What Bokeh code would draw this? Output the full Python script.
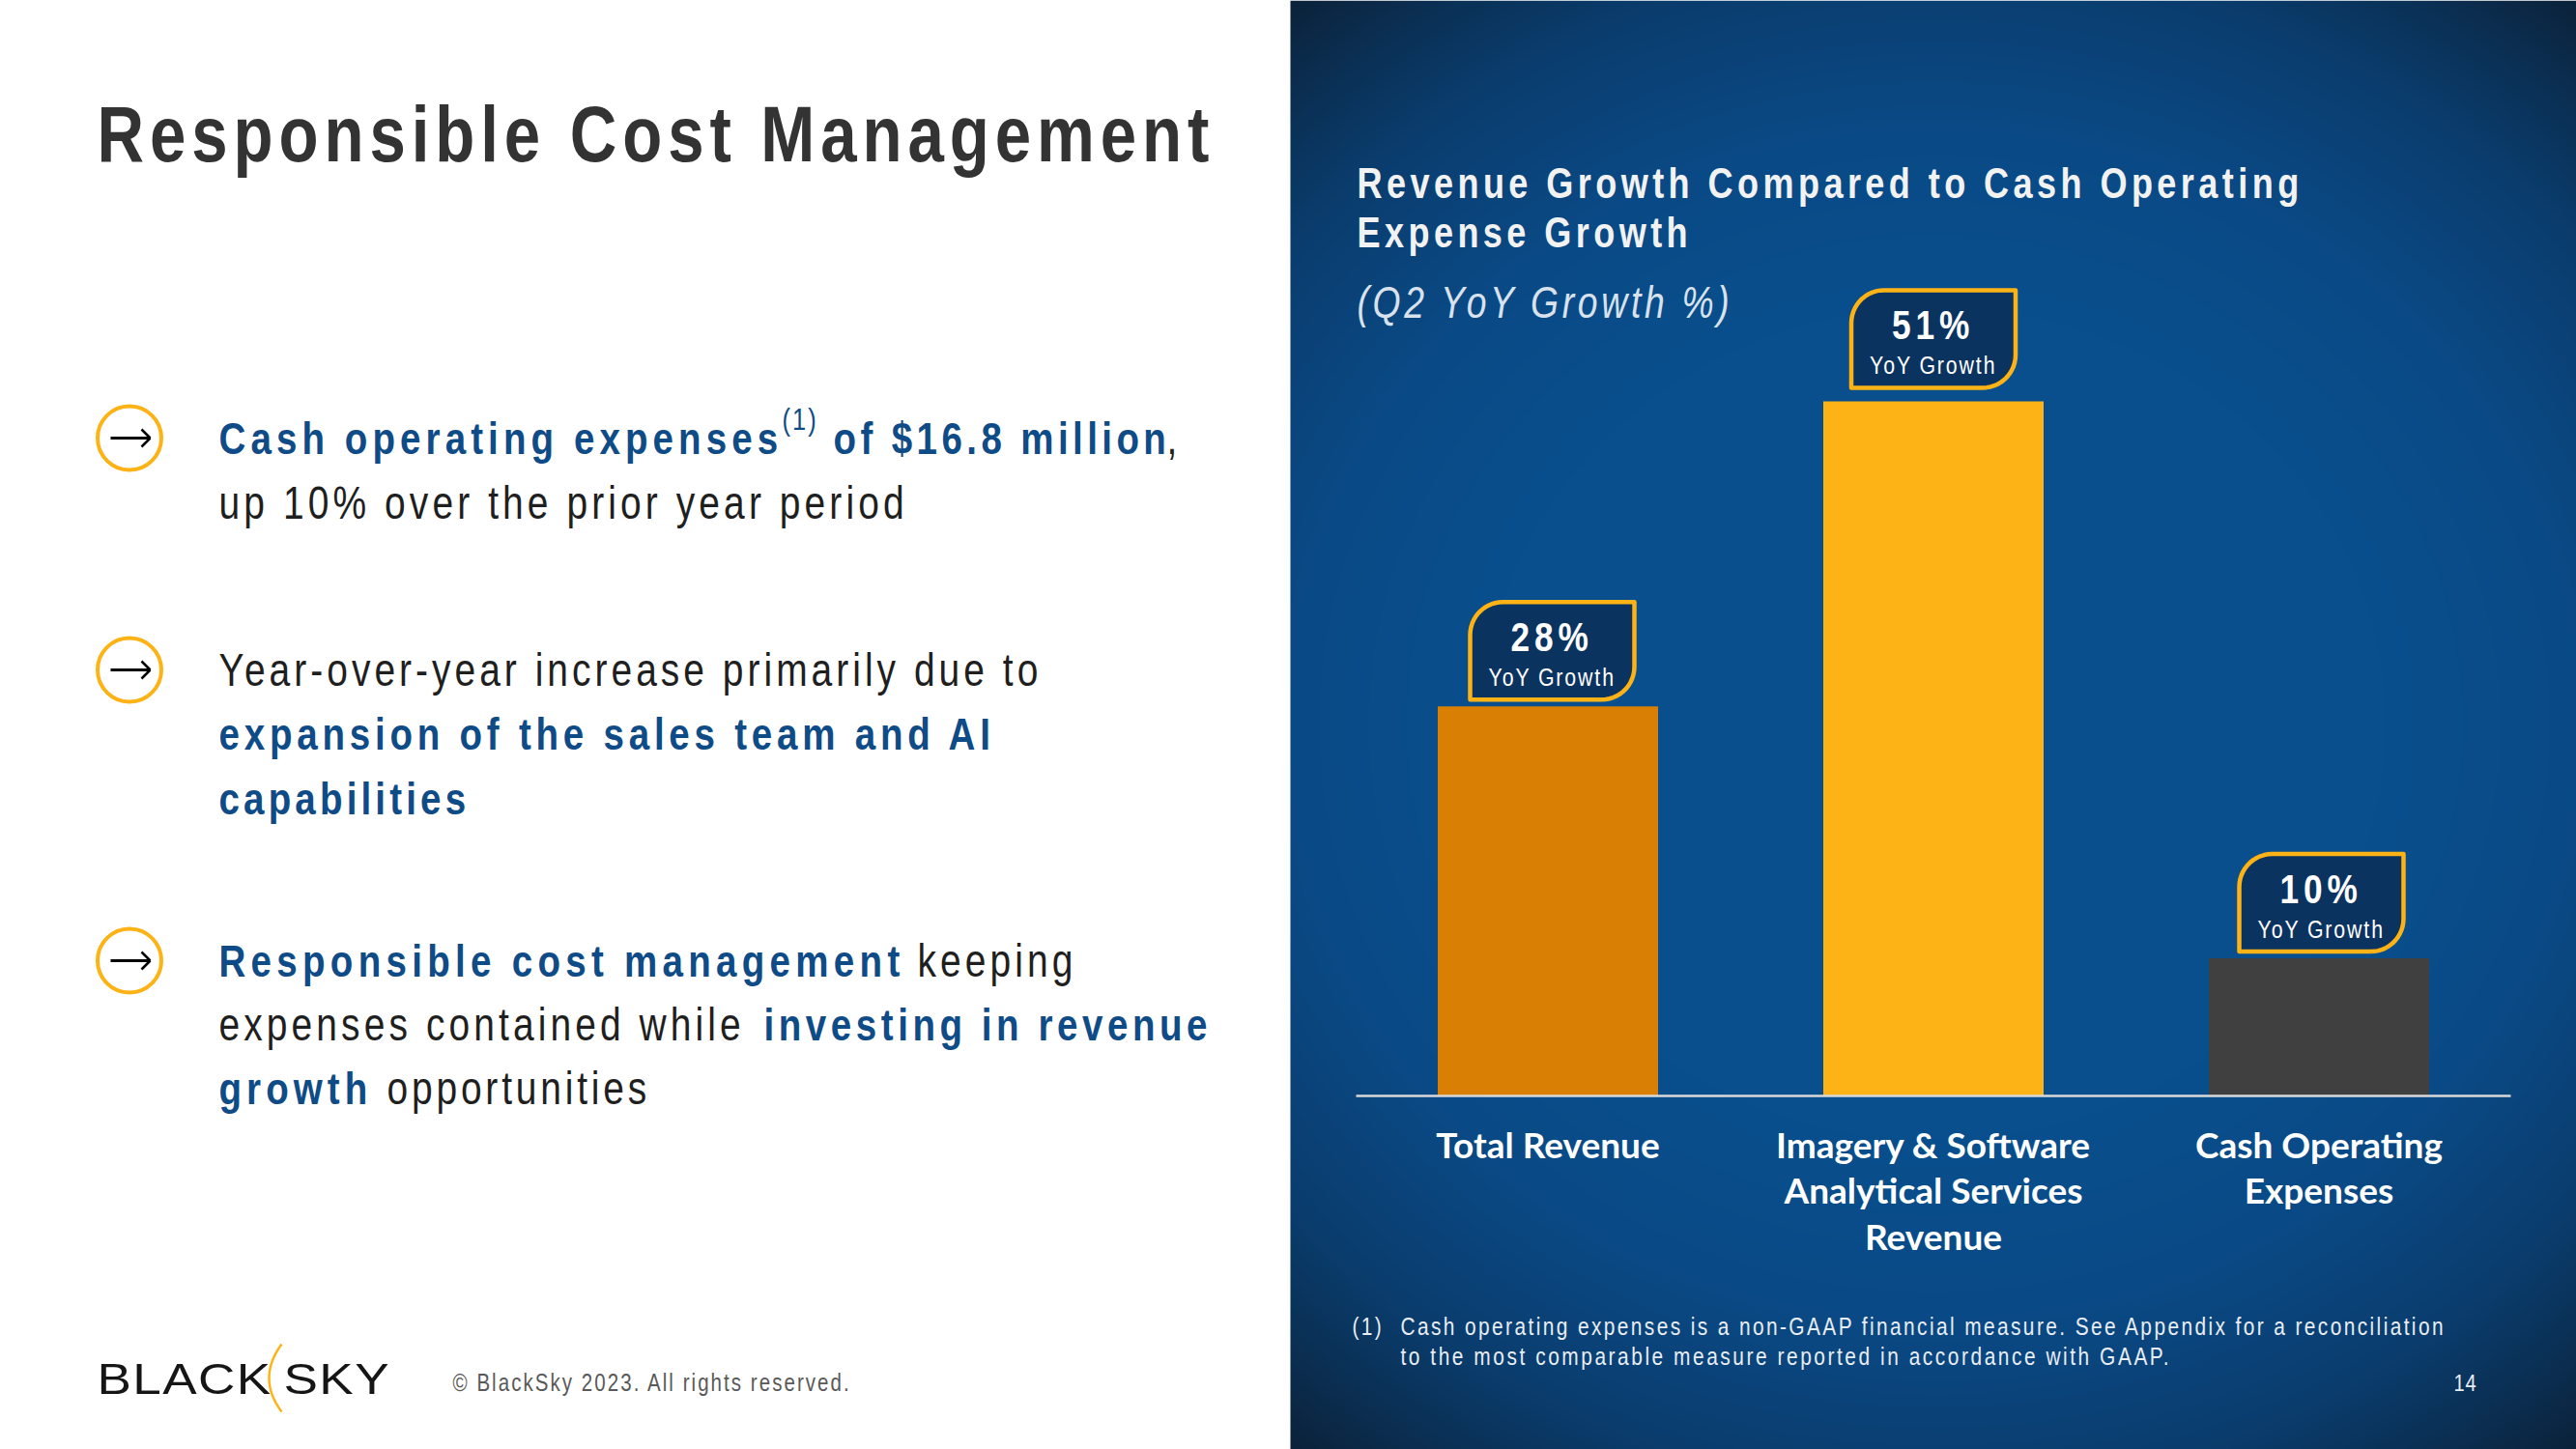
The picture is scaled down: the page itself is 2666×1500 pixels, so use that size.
import numpy as np
from bokeh.core.properties import value
from bokeh.embed import file_html
from bokeh.io import curdoc
from bokeh.models import CustomJS, Range1d
from bokeh.plotting import figure
from bokeh.resources import INLINE

categories = ["Total Revenue", "Imagery & Software\nAnalytical Services\nRevenue", "Cash Operating\nExpenses"]
growth_values = [28.6, 51.0, 10.1]
growth_labels = ["28%", "51%", "10%"]
bar_colors = ["#D98004", "#FDB316", "#404040"]
callout_text = "YoY Growth"

W, H = 2666, 1500
BASE_Y, PX_PER_PCT = 1134, 14.1
CENTER_0, STEP = 1601.5, 399
GOLD, NAVY, BLUE, INK = "#FDB316", "#0B3360", "#0F4C87", "#1f1f1f"
SANS = "Liberation Sans"
BASE_SHIFT = 0.33

x_start = -CENTER_0 / STEP
y_top, y_bottom = BASE_Y / PX_PER_PCT, (BASE_Y - H) / PX_PER_PCT
p = figure(width=W, height=H, output_backend="svg", toolbar_location=None, min_border=0,
           x_range=Range1d(x_start, x_start + W / STEP), y_range=Range1d(y_bottom, y_top),
           x_axis_location=None, y_axis_location=None, background_fill_color="white",
           border_fill_color="white", outline_line_color=None)
p.styles = {"position": "absolute", "left": "0", "top": "0"}
p.extra_x_ranges = {"px": Range1d(0, W)}
p.extra_y_ranges = {"px": Range1d(H, 0)}
p.grid.visible = False
PX = dict(x_range_name="px", y_range_name="px")

# panel background
yy, xx = np.mgrid[0:750, 0:666]
r = np.sqrt(((xx - 333) / 520.0) ** 2 + ((yy - 375) / 480.0) ** 2)
stops = [0.0, 0.45, 0.64, 0.82, 0.92, 1.01]
chan = [[9, 9, 10, 10, 11, 11], [80, 79, 74, 61, 48, 34], [143, 141, 134, 110, 84, 58]]
img = np.zeros((750, 666), dtype=np.uint32)
v = img.view(dtype=np.uint8).reshape((750, 666, 4))
for i in range(3):
    v[:, :, i] = np.interp(r, stops, chan[i]).astype(np.uint8)
v[:, :, 3] = 255
p.image_rgba(image=[img], x=x_start + 1335 / STEP, y=y_bottom, dw=1331 / STEP, dh=H / PX_PER_PCT, level="image")

# bars through the data scale
xs = list(range(len(categories)))
p.vbar(x=xs, top=growth_values, bottom=0, width=228 / STEP, fill_color=bar_colors, line_color=None)

# category labels under the zero line
p.text(x=xs, y=[0] * len(xs), text=categories, text_font=value("Lato"), text_font_size=value("37px"),
       text_font_style="bold", text_color="white", text_align="center", text_baseline="top",
       text_line_height=1.058, y_offset=27)
p.segment(x0=[1403], x1=[2598], y0=[1134], y1=[1134], line_color="#D9D9D9", line_width=2.5, **PX)

def txt(x, y, t, size, color, font=SANS, style="normal"):
    shift = BASE_SHIFT * float(size[:-2])
    p.text(x=x, y=[q - shift for q in y], text=t, text_font=value(font), text_font_size=value(size), text_color=color,
           text_font_style=style, text_align="left", text_baseline="alphabetic", **PX)

def callout(left, top, w=170, h=101, rad=34):
    a = np.linspace(0, np.pi / 2, 14)
    px = [left, left] + list(left + rad - rad * np.cos(a)) + [left + w, left + w]
    py = [top + h, top + rad] + list(top + rad - rad * np.sin(a)) + [top, top + h - rad]
    px += list(left + w - rad + rad * np.cos(a)) + [left]
    py += list(top + h - rad + rad * np.sin(a)) + [top + h]
    p.patch(px, py, fill_color=NAVY, line_color=GOLD, line_width=4.5, line_join="round", **PX)

x_offsets = [4.5, 0.0, 2.5]
y_offsets = [-108, -115, -108]
for i, val in enumerate(growth_values):
    bar_top = BASE_Y - val * PX_PER_PCT
    left = CENTER_0 + i * STEP - 85 + x_offsets[i]
    top = bar_top + y_offsets[i]
    callout(left, top)
    txt([left + 42], [top + 50], [growth_labels[i]], "43px", "white", style="bold")
    txt([left + 19], [top + 86], [callout_text], "26px", "white")

# left column
txt([100], [165], ["Responsible Cost Management"], "82px", "#333333", style="bold")
txt([226, 862], [469, 469], ["Cash operating expenses", "of $16.8 million"], "47px", BLUE, style="bold")
txt([809], [444], ["(1)"], "31px", BLUE)
txt([1207, 226], [469, 536], [",", "up 10% over the prior year period"], "47.5px", INK)
txt([226], [709], ["Year-over-year increase primarily due to"], "47.5px", INK)
txt([226, 226], [775, 842], ["expansion of the sales team and AI", "capabilities"], "47px", BLUE, style="bold")
txt([226, 790, 226], [1010, 1076, 1142], ["Responsible cost management", "investing in revenue", "growth"], "47px", BLUE, style="bold")
txt([949, 226, 400], [1010, 1076, 1142], ["keeping", "expenses contained while", "opportunities"], "47.5px", INK)

for cy in [453, 693, 994]:
    p.circle(x=[133.5], y=[cy], radius=33, fill_color="white", line_color=GOLD, line_width=4, **PX)
    p.segment(x0=[114], x1=[155], y0=[cy], y1=[cy], line_color="black", line_width=3, **PX)
    p.segment(x0=[146, 146], x1=[155, 155], y0=[cy - 9, cy + 9], y1=[cy, cy], line_color="black", line_width=2.5, **PX)

txt([100, 293], [1442, 1442], ["BLACK", "SKY"], "45px", "#151515")
theta = np.linspace(-1, 1, 30)
p.line(291 - 13 * (1 - theta ** 2), 1426 + 35 * theta, line_color=GOLD, line_width=2.5, **PX)
txt([468], [1439], ["© BlackSky 2023. All rights reserved."], "25px", "#595959")

# right column
txt([1404, 1404], [204, 255], ["Revenue Growth Compared to Cash Operating", "Expense Growth"], "44px", "#F2F2F2", style="bold")
txt([1404], [328], ["(Q2 YoY Growth %)"], "45.5px", "#D9E2EC", style="italic")
txt([1399, 1449, 1449], [1381, 1381, 1412], ["(1)", "Cash operating expenses is a non-GAAP financial measure. See Appendix for a reconciliation",
     "to the most comparable measure reported in accordance with GAAP."], "25.5px", "#E8EDF3")
txt([2539], [1439], ["14"], "24.5px", "#E8EDF3")

spacing = {"82px": 7.2, "47px": 6.2, "47.5px": 5.0, "31px": 2.5, "45px": 1.2, "45.5px": 4.5, "25px": 2.5, "44px": 5.4,
           "25.5px": 2.92, "24.5px": 1, "43px": 6.0, "26px": 2.3}
overrides = {"of $16.8 million": 5.37, "expansion of the sales team and AI": 5.82, "capabilities": 5.07,
             "Responsible cost management": 6.44, "investing in revenue": 5.55,
             "Year-over-year increase primarily due to": 4.9, "opportunities": 4.65,
             "to the most comparable measure reported in accordance with GAAP.": 3.1}
narrow = {k: (1.18 if k == "45px" else 0.82) for k in spacing}
cb = CustomJS(args=dict(spacing=spacing, narrow=narrow, overrides=overrides), code="""
function walk(root) {
  root.querySelectorAll('*').forEach(el => {
    if (el.shadowRoot) walk(el.shadowRoot);
    if (el.tagName.toLowerCase() === 'text') {
      const fs = el.getAttribute('font-size') || el.style.fontSize;
      const fam = el.getAttribute('font-family') || '';
      if (fs in spacing && !fam.includes('Lato') && !el.hasAttribute('letter-spacing')) {
        const s = overrides[el.textContent] ?? spacing[fs];
        el.setAttribute('letter-spacing', s);
        const x = parseFloat(el.getAttribute('x')) || 0;
        const t = el.getAttribute('transform') || '';
        el.setAttribute('transform', t + ` translate(${x} 0) scale(${narrow[fs]} 1) translate(${-x} 0)`);
      }
    }
  });
}
walk(document); setTimeout(() => walk(document), 200); setTimeout(() => walk(document), 800);
""")
curdoc().add_root(p)
curdoc().js_on_event("document_ready", cb)
open("out.html", "w").write(file_html(p, INLINE))
